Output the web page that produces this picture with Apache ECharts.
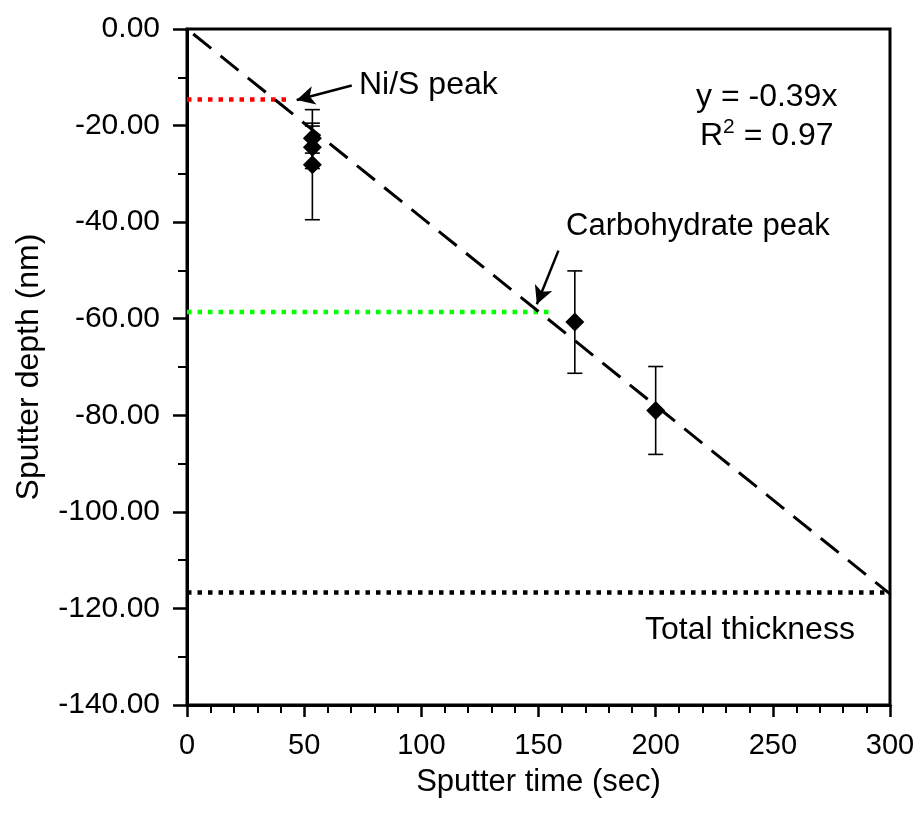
<!DOCTYPE html>
<html>
<head>
<meta charset="utf-8">
<script src="https://cdn.jsdelivr.net/npm/echarts@6/dist/echarts.min.js"></script>
<style>html,body{margin:0;padding:0;background:#fff;}#chart{width:920px;height:813px;}</style>
</head>
<body>
<div id="chart"></div>
<script>
// ---- data ----
var xTicks = [0, 50, 100, 150, 200, 250, 300];
var yTicks = [0, -20, -40, -60, -80, -100, -120, -140];
var sputterTime = [53.5, 53.5, 53.5, 165.5, 200];
var sputterDepth = [-22.6, -24.5, -28.1, -60.7, -79.0];
var depthError = [3.1, 4.4, 11.4, 10.6, 9.1];
var fitSlope = -0.39;
var fitX = [0, 300];
var niSPeak = { depth: -14.6, endTime: 43 };
var carbPeak = { depth: -58.6, endTime: 154.5 };
var totalThickness = { depth: -116.7, endTime: 300 };
var niSArrow = [[70.3, -11.7], [46.8, -14.7]];
var carbArrow = [[158.5, -45.9], [149.3, -57.0]];

var FONT = '"Liberation Sans", Arial, sans-serif';

var points = sputterTime.map(function (t, i) { return [t, sputterDepth[i]]; });
var errData = sputterTime.map(function (t, i) { return [t, sputterDepth[i], depthError[i]]; });
var fitData = fitX.map(function (x) { return [x, fitSlope * x]; });

var chart = echarts.init(document.getElementById('chart'));
var option = {
  animation: false,
  backgroundColor: '#fff',
  grid: { left: 187, right: 30, top: 29, bottom: 108, show: true, borderColor: '#000', borderWidth: 3, backgroundColor: 'transparent' },
  xAxis: {
    type: 'value', min: xTicks[0], max: xTicks[xTicks.length - 1], interval: 50,
    name: 'Sputter time (sec)', nameLocation: 'middle', nameGap: 62,
    nameTextStyle: { fontFamily: FONT, fontSize: 31, color: '#000' },
    axisLine: { show: true, onZero: false, lineStyle: { color: '#000', width: 3 } },
    axisTick: { show: true, inside: false, length: 12, lineStyle: { color: '#000', width: 2.5 } },
    minorTick: { show: true, splitNumber: 5, length: 8, lineStyle: { color: '#000', width: 2 } },
    axisLabel: { fontFamily: FONT, fontSize: 29, color: '#000', margin: 26 },
    splitLine: { show: false }
  },
  yAxis: {
    type: 'value', min: yTicks[yTicks.length - 1], max: yTicks[0], interval: 20,
    name: 'Sputter depth (nm)', nameLocation: 'middle', nameGap: 142, nameRotate: 90,
    nameTextStyle: { fontFamily: FONT, fontSize: 32, color: '#000' },
    axisLine: { show: true, onZero: false, lineStyle: { color: '#000', width: 3 } },
    axisTick: { show: true, inside: false, length: 14, lineStyle: { color: '#000', width: 2.5 } },
    minorTick: { show: true, splitNumber: 2, length: 9, lineStyle: { color: '#000', width: 2 } },
    axisLabel: { fontFamily: FONT, fontSize: 30, color: '#000', margin: 27,
      formatter: function (v) { return (Math.abs(v) < 1e-9 ? 0 : v).toFixed(2); } },
    splitLine: { show: false }
  },
  series: [
    { type: 'line', data: [[0, niSPeak.depth], [niSPeak.endTime, niSPeak.depth]], symbol: 'none',
      lineStyle: { color: '#ff0000', width: 4.5, type: [4.5, 6], cap: 'butt' }, z: 3 },
    { type: 'line', data: [[0, carbPeak.depth], [carbPeak.endTime, carbPeak.depth]], symbol: 'none',
      lineStyle: { color: '#00ff00', width: 4.5, type: [4.5, 6], cap: 'butt' }, z: 3 },
    { type: 'line', data: [[0, totalThickness.depth], [totalThickness.endTime, totalThickness.depth]], symbol: 'none',
      lineStyle: { color: '#000', width: 4.5, type: [4.5, 6], cap: 'butt' }, z: 3 },
    { type: 'line', data: fitData, symbol: 'none',
      lineStyle: { color: '#000', width: 3, type: [23, 12], dashOffset: -8, cap: 'butt' }, z: 4,
      markLine: {
        silent: true, symbol: ['none', 'arrow'], symbolSize: [14, 18], precision: 3,
        label: { show: false },
        lineStyle: { color: '#000', width: 2.5, type: 'solid' },
        data: [
          [{ coord: niSArrow[0] }, { coord: niSArrow[1] }],
          [{ coord: carbArrow[0] }, { coord: carbArrow[1] }]
        ]
      }
    },
    { type: 'custom', data: errData, z: 5,
      renderItem: function (params, api) {
        var x = api.value(0), y = api.value(1), e = api.value(2);
        var top = api.coord([x, y + e]);
        var bot = api.coord([x, y - e]);
        var hw = 7.5;
        var st = { stroke: '#000', lineWidth: 1.6 };
        return { type: 'group', children: [
          { type: 'line', shape: { x1: top[0], y1: top[1], x2: bot[0], y2: bot[1] }, style: st },
          { type: 'line', shape: { x1: top[0] - hw, y1: top[1], x2: top[0] + hw, y2: top[1] }, style: st },
          { type: 'line', shape: { x1: bot[0] - hw, y1: bot[1], x2: bot[0] + hw, y2: bot[1] }, style: st }
        ] };
      }
    },
    { type: 'scatter', data: points, symbol: 'diamond', symbolSize: 19, itemStyle: { color: '#000', opacity: 1 }, z: 6 }
  ],
  graphic: [
    { type: 'text', left: 359, top: 69, style: { text: 'Ni/S peak', font: '32px ' + FONT, fill: '#000' } },
    { type: 'text', left: 566, top: 211, style: { text: 'Carbohydrate peak', font: '31px ' + FONT, fill: '#000' } },
    { type: 'text', left: 696, top: 81, style: { text: 'y = -0.39x', font: '32px ' + FONT, fill: '#000' } },
    { type: 'text', left: 700, top: 117, style: { text: '{a|R}{s|2}{a| = 0.97}', fill: '#000',
      rich: { a: { fontFamily: FONT, fontSize: 32, verticalAlign: 'bottom' }, s: { fontFamily: FONT, fontSize: 21, verticalAlign: 'top', padding: [0, 0, 14, 0] } } } },
    { type: 'text', left: 645, top: 614, style: { text: 'Total thickness', font: '32px ' + FONT, fill: '#000' } }
  ]
};
chart.setOption(option);
</script>
</body>
</html>
